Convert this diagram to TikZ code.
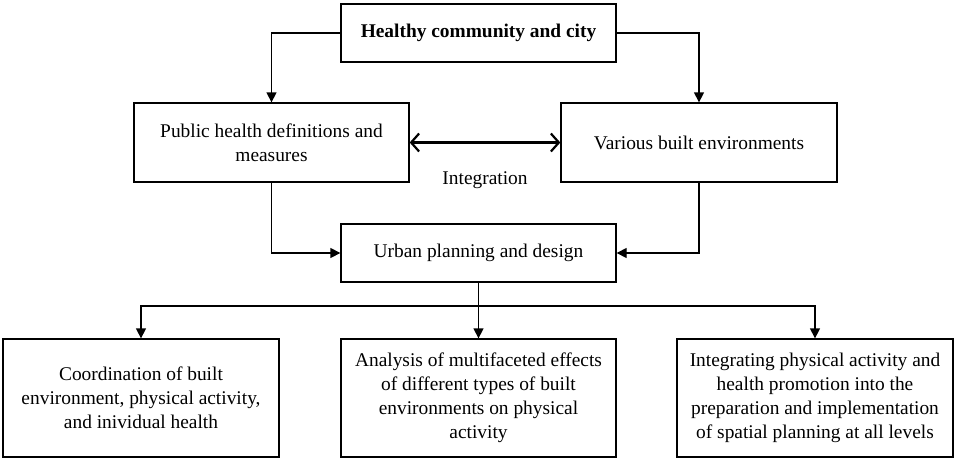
\documentclass[tikz,border=0pt]{standalone}
\usepackage{fontspec}
\setmainfont{Liberation Serif}
\usetikzlibrary{arrows.meta}
\tikzset{
  box/.style={draw, line width=1.3pt, align=center, inner sep=0pt,
    font=\fontsize{19.4}{24}\selectfont},
  link/.style={line width=1.3pt, -{Triangle[length=10pt,width=10pt]}},
}
\begin{document}
\begin{tikzpicture}[x=1pt,y=-1pt]
\useasboundingbox (0,0) rectangle (957,461);
\node[box, minimum width=275pt, minimum height=58pt] (hc) at (478.5,33) {\bfseries Healthy community and city};
\node[box, minimum width=275pt, minimum height=79pt] (pub) at (271.5,142.5) {Public health definitions and\\measures};
\node[box, minimum width=276pt, minimum height=79pt] (var) at (699,142.5) {Various built environments};
\node[font=\fontsize{19.4}{24}\selectfont] (integ) at (485,180) {Integration};
\node[box, minimum width=275pt, minimum height=58pt] (urb) at (478.5,253) {Urban planning and design};
\node[box, minimum width=276pt, minimum height=118pt] (coord) at (141,398) {Coordination of built\\environment, physical activity,\\and inividual health};
\node[box, minimum width=275pt, minimum height=118pt] (anal) at (478.5,398) {Analysis of multifaceted effects\\of different types of built\\environments on physical\\activity};
\node[box, minimum width=276pt, minimum height=118pt] (integr) at (815,398) {Integrating physical activity and\\health promotion into the\\preparation and implementation\\of spatial planning at all levels};
\coordinate (fork) at (478.5,306);
% top level
\draw[link] (hc.west) -| (pub.north);
\draw[link] (hc.east) -| (var.north);
\draw[line width=2.2pt, {Straight Barb[length=8pt,width=18pt]}-{Straight Barb[length=8pt,width=18pt]}] (pub) -- (var);
% into planning
\draw[link] (pub.south) |- (urb.west);
\draw[link] (var.south) |- (urb.east);
% branches
\draw[line width=1.3pt] (urb.south) -- (fork);
\draw[link] (fork) -| (coord.north);
\draw[link] (fork) -- (anal.north);
\draw[link] (fork) -| (integr.north);
\end{tikzpicture}
\end{document}
